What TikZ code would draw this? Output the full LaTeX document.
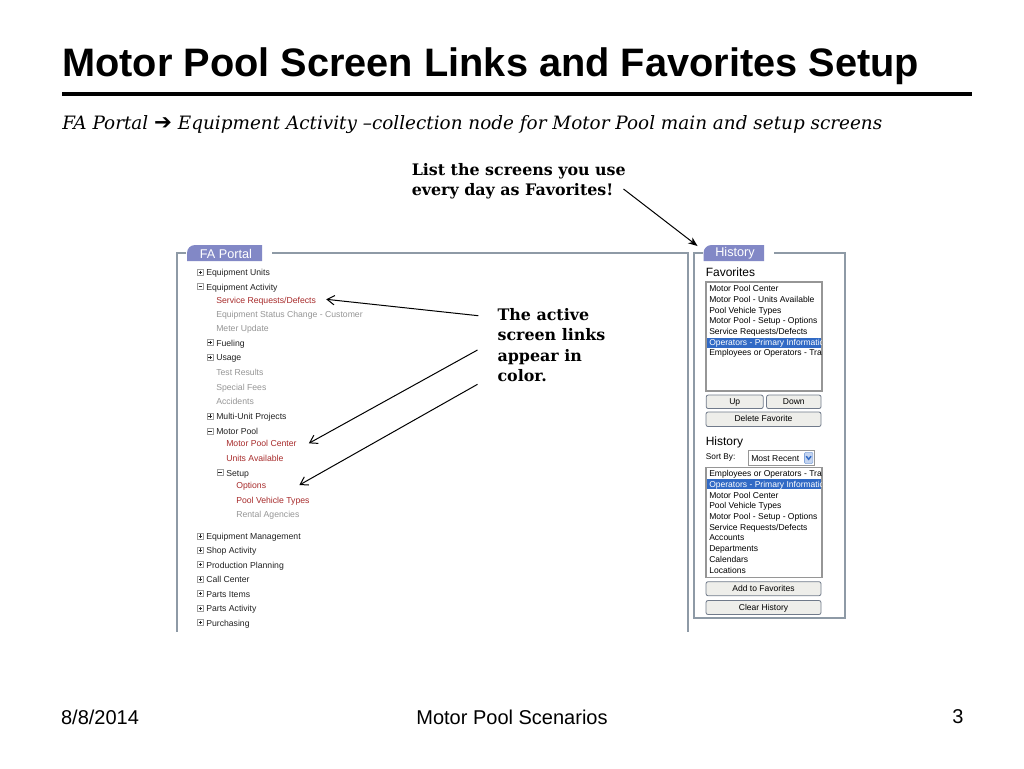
\documentclass[tikz,border=0pt]{standalone}
\usepackage{fontspec}
\setmainfont{Liberation Sans}
\newfontfamily\bookfont{DejaVu Serif}
\newfontfamily\arrowfont{DejaVu Sans}
\usetikzlibrary{arrows.meta}
\definecolor{linkred}{RGB}{168,44,44}
\definecolor{linkgray}{RGB}{150,150,150}
\definecolor{treeblack}{RGB}{35,35,35}
\definecolor{framegray}{RGB}{142,154,166}
\definecolor{tabblue}{RGB}{130,136,198}
\definecolor{selblue}{RGB}{49,106,197}
\definecolor{btnborder}{RGB}{112,122,138}
\definecolor{btnfill}{RGB}{238,238,234}
\definecolor{boxborder}{RGB}{150,150,150}
\definecolor{dropblue}{RGB}{196,212,240}
\tikzset{
  tree/.style={anchor=base west, inner sep=0, font=\fontsize{6.5}{7.5}\selectfont, text=treeblack},
  link/.style={tree, text=linkred},
  off/.style={tree, text=linkgray},
  item/.style={anchor=base west, inner sep=0, font=\fontsize{6.4}{7.5}\selectfont, text=black},
  selitem/.style={item, text=white},
  btn/.style={draw=btnborder, fill=btnfill, rounded corners=1.5pt, line width=0.6pt,
    font=\fontsize{6.4}{7.5}\selectfont, inner sep=0, text height=4.7pt, text depth=0.9pt},
  frame/.style={draw=framegray, line width=1.4pt},
  tab/.style={fill=tabblue},
  tablabel/.style={inner sep=0, text=white, font=\fontsize{9.5}{11}\selectfont},
  listbox/.style={draw=boxborder, fill=white, line width=0.9pt},
  heading/.style={anchor=base west, inner sep=0, font=\fontsize{9}{10}\selectfont, text=black},
  note/.style={anchor=base west, inner sep=0, font=\bookfont\bfseries\fontsize{11.9}{14}\selectfont},
  pointer/.style={line width=0.75pt, -{Straight Barb[length=5.5pt,width=7pt]}},
  footer/.style={inner sep=0, font=\fontsize{15}{17}\selectfont},
  icon/.style={draw=gray!75, fill=white, line width=0.4pt},
  iconsign/.style={draw=black!85, line width=0.45pt},
  plusbox/.pic={\draw[icon] (-3,-3) rectangle (3,3); \draw[iconsign] (-1.7,0) -- (1.7,0) (0,-1.7) -- (0,1.7);},
  minusbox/.pic={\draw[icon] (-3,-3) rectangle (3,3); \draw[iconsign] (-1.7,0) -- (1.7,0);}
}
\begin{document}
\begin{tikzpicture}[x=0.75pt,y=-0.75pt]
\useasboundingbox (0,0) rectangle (1024,768);
\fill[white] (0,0) rectangle (1024,768);

% title
\node[anchor=base west, inner sep=0, font=\bfseries\fontsize{29.8}{34}\selectfont] (title) at (62,76) {Motor Pool Screen Links and Favorites Setup};
\coordinate (ruleL) at (62,94);
\coordinate (ruleR) at (972,94);
\draw[line width=3.4pt] (ruleL) -- (ruleR);
\node[anchor=base west, inner sep=0, font=\bookfont\itshape\fontsize{13.8}{16}\selectfont] (subtitle) at (62,129)
  {FA Portal {\arrowfont\upshape\bfseries\fontsize{16}{16}\selectfont ➔} Equipment Activity –collection node for Motor Pool main and setup screens};

% ---------- FA Portal panel ----------
\draw[frame] (186,253) -- (177,253) -- (177,632);
\draw[frame] (272,253) -- (688,253) -- (688,632);
\fill[tab] (187,261) [rounded corners=6pt] -- (187,245) [sharp corners] -- (262,245) -- (262,261) -- cycle;
\node[tablabel] (fatab) at (226,253.5) {FA Portal};

% tree
\pic at (200.3,272.4) {plusbox};  \node[tree] (equnits) at (206,275.7) {Equipment Units};
\pic at (200.3,286.7) {minusbox}; \node[tree] (eqact) at (206,290) {Equipment Activity};
\node[link] (srd) at (216,303.3) {Service Requests/Defects};
\node[off] (esc) at (216,317.3) {Equipment Status Change - Customer};
\node[off] (meter) at (216,331.7) {Meter Update};
\pic at (210,342.7) {plusbox};  \node[tree] (fuel) at (216,346) {Fueling};
\pic at (210,357.4) {plusbox};  \node[tree] (usage) at (216,360.7) {Usage};
\node[off] (test) at (216,375.3) {Test Results};
\node[off] (fees) at (216,390) {Special Fees};
\node[off] (acc) at (216,404.7) {Accidents};
\pic at (210,416) {plusbox};  \node[tree] (multi) at (216,419.3) {Multi-Unit Projects};
\pic at (210,431.2) {minusbox}; \node[tree] (mpool) at (216,434.5) {Motor Pool};
\node[link] (mpc) at (226,446.7) {Motor Pool Center};
\node[link] (units) at (226,461.3) {Units Available};
\pic at (220,472.7) {minusbox}; \node[tree] (setup) at (226,476) {Setup};
\node[link] (opts) at (236,488.8) {Options};
\node[link] (pvt) at (236,503.3) {Pool Vehicle Types};
\node[off] (rental) at (236,517.7) {Rental Agencies};
\pic at (200.3,536) {plusbox};  \node[tree] (eqmgmt) at (206,539.3) {Equipment Management};
\pic at (200.3,550) {plusbox};  \node[tree] (shop) at (206,553.3) {Shop Activity};
\pic at (200.3,564.7) {plusbox};  \node[tree] (prod) at (206,568) {Production Planning};
\pic at (200.3,579) {plusbox};  \node[tree] (call) at (206,582.3) {Call Center};
\pic at (200.3,593.7) {plusbox};  \node[tree] (pitems) at (206,597) {Parts Items};
\pic at (200.3,608.4) {plusbox};  \node[tree] (pact) at (206,611.7) {Parts Activity};
\pic at (200.3,622.7) {plusbox};  \node[tree] (purch) at (206,626) {Purchasing};

% ---------- History panel ----------
\draw[frame] (703,253) -- (694,253) -- (694,618) -- (845,618) -- (845,253) -- (774,253);
\fill[tab] (703.5,261) [rounded corners=6pt] -- (703.5,245) [sharp corners] -- (764,245) -- (764,261) -- cycle;
\node[tablabel] (histtab) at (735,253.5) {History};

\node[heading] (favhead) at (705.5,276) {Favorites};
\draw[listbox] (706,282) rectangle (822,391);
\fill[selblue] (707,337.6) rectangle (821,347.6);
\begin{scope}
  \clip (707,283) rectangle (821,390);
  \node[item] (f1) at (709,291.7) {Motor Pool Center};
  \node[item] (f2) at (709,302.4) {Motor Pool - Units Available};
  \node[item] (f3) at (709,313.1) {Pool Vehicle Types};
  \node[item] (f4) at (709,323.8) {Motor Pool - Setup - Options};
  \node[item] (f5) at (709,334.5) {Service Requests/Defects};
  \node[selitem] (f6) at (709,345.2) {Operators - Primary Information};
  \node[item] (f7) at (709,355.9) {Employees or Operators - Transfers};
\end{scope}
\node[btn, minimum width=57*0.75pt, minimum height=13.5*0.75pt] (up) at (734.7,401.8) {Up};
\node[btn, minimum width=54.5*0.75pt, minimum height=13.5*0.75pt] (down) at (793.8,401.8) {Down};
\node[btn, minimum width=115*0.75pt, minimum height=14.5*0.75pt] (delfav) at (763.5,419.3) {Delete Favorite};

\node[heading] (histhead) at (705.5,445) {History};
\node[anchor=base west, inner sep=0, font=\fontsize{6.2}{7.5}\selectfont] (sortby) at (705.7,459.3) {Sort By:};
\draw[draw=boxborder, fill=white, line width=0.6pt] (748,450.7) rectangle (814,465.2);
\node[item] (sortsel) at (751,461) {Most Recent};
\draw[draw=selblue!60, fill=dropblue, line width=0.4pt, rounded corners=0.8pt] (804.5,452.3) rectangle (812.8,463.6);
\draw[selblue, line width=1.1pt] (806.2,456.2) -- (808.65,459.3) -- (811.1,456.2);

\draw[listbox] (706,467.5) rectangle (822,577.5);
\fill[selblue] (707,479.3) rectangle (821,489.3);
\begin{scope}
  \clip (707,468.5) rectangle (821,576.5);
  \node[item] (h1) at (709,476.7) {Employees or Operators - Transfers};
  \node[selitem] (h2) at (709,487.4) {Operators - Primary Information};
  \node[item] (h3) at (709,498.1) {Motor Pool Center};
  \node[item] (h4) at (709,508.8) {Pool Vehicle Types};
  \node[item] (h5) at (709,519.5) {Motor Pool - Setup - Options};
  \node[item] (h6) at (709,530.2) {Service Requests/Defects};
  \node[item] (h7) at (709,540.9) {Accounts};
  \node[item] (h8) at (709,551.6) {Departments};
  \node[item] (h9) at (709,562.3) {Calendars};
  \node[item] (h10) at (709,573) {Locations};
\end{scope}
\node[btn, minimum width=115*0.75pt, minimum height=14*0.75pt] (addfav) at (763.5,588.7) {Add to Favorites};
\node[btn, minimum width=115*0.75pt, minimum height=14*0.75pt] (clear) at (763.5,607.5) {Clear History};

% ---------- annotations ----------
\node[note] (fav1) at (411.5,175) {List the screens you use};
\node[note] (fav2) at (411.5,195.5) {every day as Favorites!};
\coordinate (favstart) at (623.5,189);
\coordinate (favtip) at (697.5,246);
\draw[line width=0.75pt, -{Stealth[length=7pt,width=5.5pt]}] (favstart) -- (favtip);

\node[note] (act1) at (497.3,320) {The active};
\node[note] (act2) at (497.3,340.5) {screen links};
\node[note] (act3) at (497.3,361) {appear in};
\node[note] (act4) at (497.3,381.5) {color.};
\coordinate (p1) at (478.3,315.7);
\coordinate (p2) at (477.5,350);
\coordinate (p3) at (477.5,384.3);
\draw[pointer] (p1) -- ([xshift=10*0.75pt, yshift=4*0.75pt]srd.base east);
\draw[pointer] (p2) -- ([xshift=12*0.75pt, yshift=3.4*0.75pt]mpc.base east);
\draw[pointer] (p3) -- ([xshift=33*0.75pt, yshift=3.8*0.75pt]opts.base east);

% ---------- footer ----------
\node[footer] (date) at (100,717) {8/8/2014};
\node[footer] (footer) at (512,717) {Motor Pool Scenarios};
\node[footer] (page) at (958,717) {3};
\end{tikzpicture}
\end{document}
